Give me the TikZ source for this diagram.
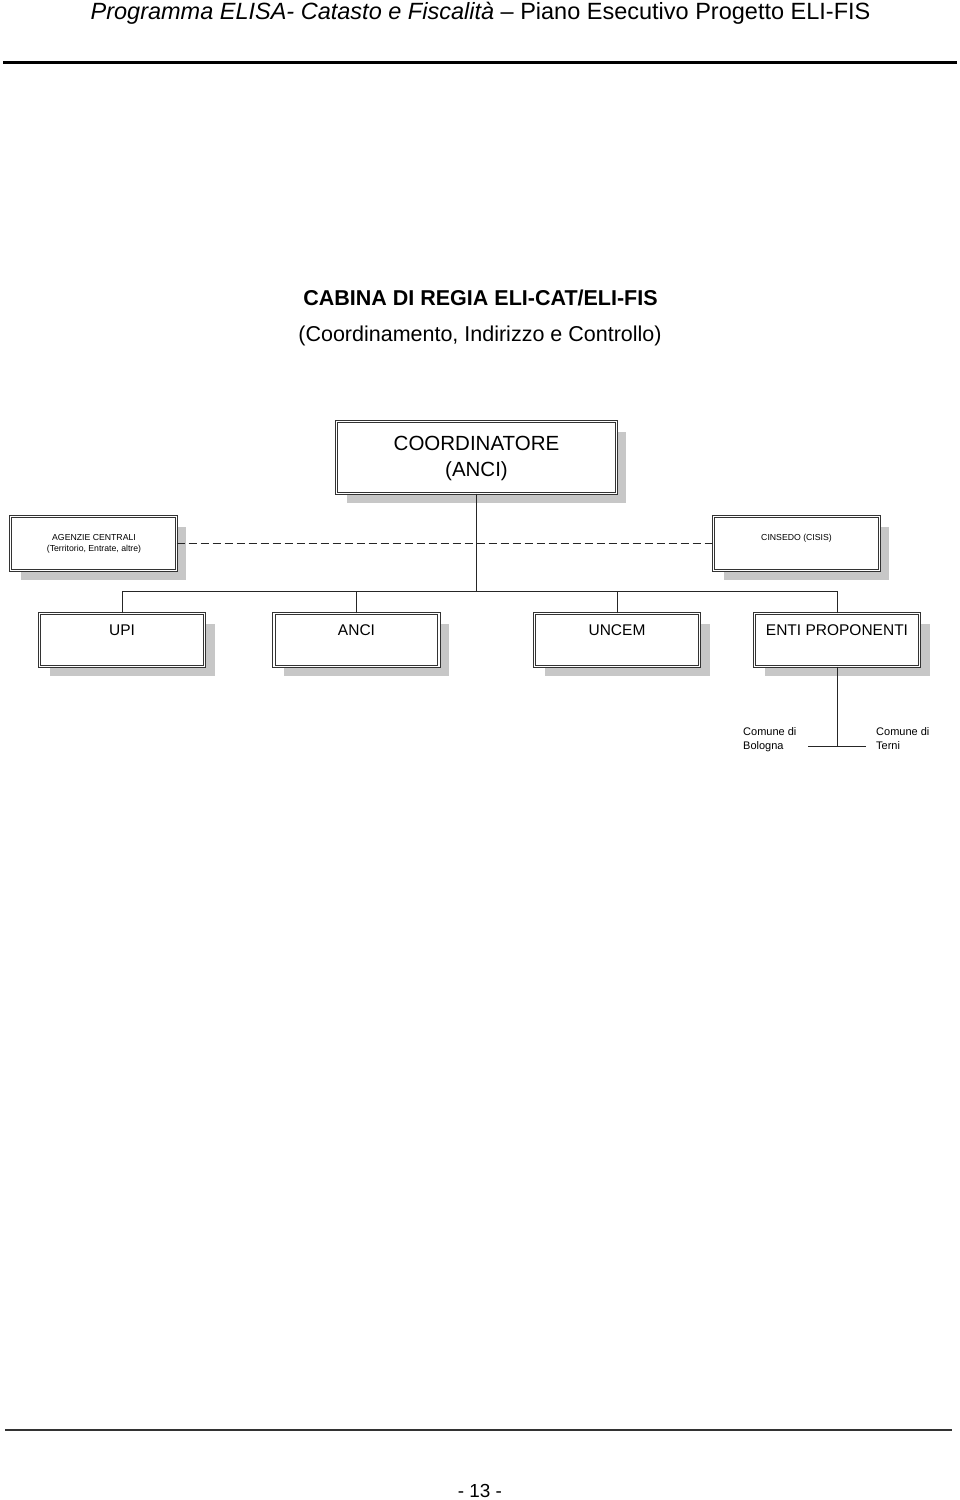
\documentclass[tikz,border=0pt]{standalone}
\usepackage{fontspec}
\setmainfont{Liberation Sans}
\usetikzlibrary{shadows}
\tikzset{
  orgbox/.style={draw=black!80, double, double distance=1.4pt, line width=0.9pt, fill=white,
    inner sep=0pt, general shadow={shadow xshift=10pt, shadow yshift=-10pt, fill=black!22}},
  bigbox/.style={orgbox, minimum width=279.5pt, minimum height=71.5pt},
  sidebox/.style={orgbox, minimum width=165.5pt, minimum height=53.5pt},
  lowbox/.style={orgbox, minimum width=165pt, minimum height=52.5pt},
  txt/.style={inner sep=0pt, anchor=base, align=center},
  conn/.style={line width=0.9pt, draw=black!85}
}
\newcommand{\fs}[1]{\fontsize{#1}{#1}\selectfont}
\begin{document}
\begin{tikzpicture}[x=1pt,y=-1pt]
\useasboundingbox (0,0) rectangle (960,1500);
% header
\node[txt] (head) at (480.5,19) {\fs{23.5}\textit{Programma ELISA- Catasto e Fiscalità} – Piano Esecutivo Progetto ELI-FIS};
\coordinate (hl) at (3,62); \coordinate (hr) at (957,62);
\draw[line width=3pt] (hl) -- (hr);
% title
\node[txt] (title) at (480.5,305.5) {\fs{21.5}\textbf{CABINA DI REGIA ELI-CAT/ELI-FIS}};
\node[txt] (subtitle) at (480,341) {\fs{21.5}(Coordinamento, Indirizzo e Controllo)};
% boxes
\node[bigbox] (coord) at (476.5,457.5) {};
\node[txt] (coordT1) at (476.5,450) {\fs{20.5}COORDINATORE};
\node[txt] (coordT2) at (476.5,476) {\fs{20.5}(ANCI)};
\node[sidebox] (agen) at (93.5,543.5) {};
\node[txt] (agenT1) at (94,540) {\fs{8.7}AGENZIE CENTRALI};
\node[txt] (agenT2) at (94,551) {\fs{8.7}(Territorio, Entrate, altre)};
\node[sidebox] (cins) at (796.5,543.5) {};
\node[txt] (cinsT) at (796.5,540) {\fs{8.7}CINSEDO (CISIS)};
\node[lowbox] (upi) at (122,640) {};
\node[txt] (upiT) at (122,635.5) {\fs{15.5}UPI};
\node[lowbox] (anci) at (356.5,640) {};
\node[txt] (anciT) at (356.5,635.5) {\fs{15.5}ANCI};
\node[lowbox] (uncem) at (617,640) {};
\node[txt] (uncemT) at (617,635.5) {\fs{15.5}UNCEM};
\node[lowbox] (enti) at (837,640) {};
\node[txt] (entiT) at (837,635.5) {\fs{15.5}ENTI PROPONENTI};
% connectors
\coordinate (busL) at (122,591); \coordinate (busR) at (837,591);
\draw[conn] (coord.south) -- (coord.south |- busL);
\draw[conn] (busL) -- (busR);
\draw[conn] (upi.north) -- (upi.north |- busL);
\draw[conn] (anci.north) -- (anci.north |- busL);
\draw[conn] (uncem.north) -- (uncem.north |- busL);
\draw[conn] (enti.north) -- (enti.north |- busL);
\draw[conn, dash pattern=on 8pt off 4pt] (agen.east) -- (cins.west);
\coordinate (comJ) at (837,746); \coordinate (comL) at (808,746); \coordinate (comR) at (866,746);
\draw[conn] (enti.south) -- (comJ);
\draw[conn] (comL) -- (comR);
\node[txt, anchor=base west, align=left] (bol) at (743,735) {\fs{11}Comune di};
\node[txt, anchor=base west, align=left] (bol2) at (743,749) {\fs{11}Bologna};
\node[txt, anchor=base west, align=left] (ter) at (876,735) {\fs{11}Comune di};
\node[txt, anchor=base west, align=left] (ter2) at (876,749) {\fs{11}Terni};
% footer
\coordinate (fl) at (5,1430); \coordinate (fr) at (952,1430);
\draw[line width=1.3pt, draw=black!80] (fl) -- (fr);
\node[txt] (page) at (480,1497) {\fs{18.9}- 13 -};
\end{tikzpicture}
\end{document}
